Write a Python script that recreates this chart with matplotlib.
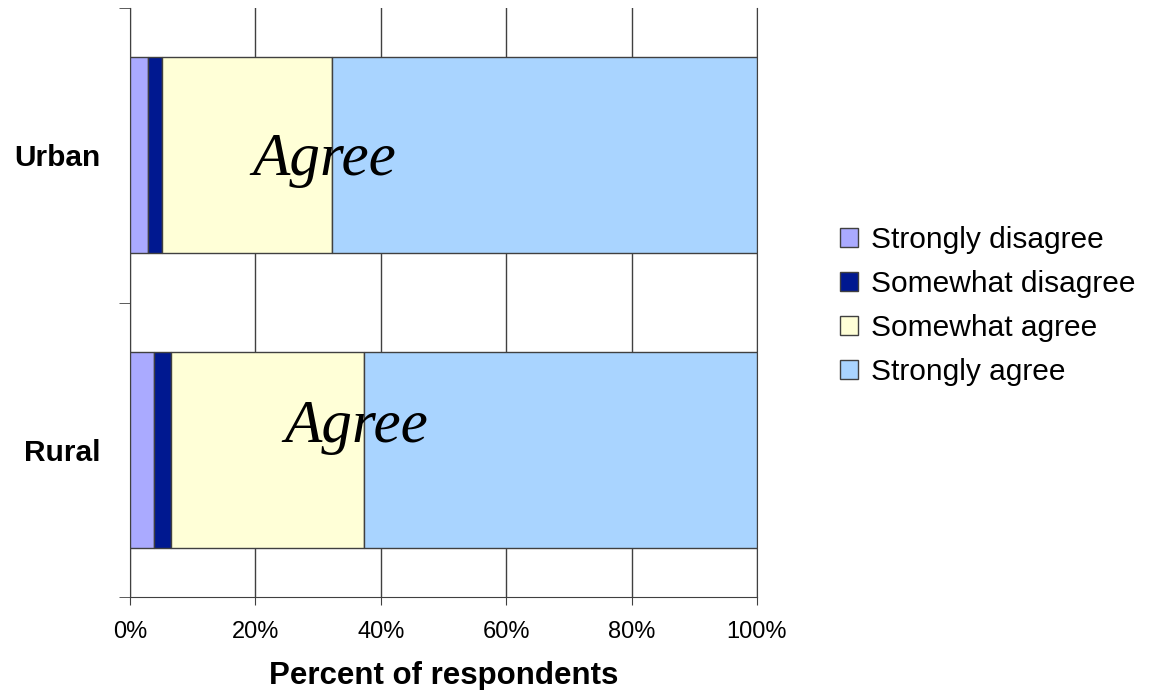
import numpy as np
import matplotlib.pyplot as plt
from matplotlib.ticker import PercentFormatter

# Data (percent of respondents)
groups = ["Rural", "Urban"]
strongly_disagree = [3.8, 2.9]
somewhat_disagree = [2.8, 2.2]
somewhat_agree = [30.7, 27.1]
strongly_agree = [62.7, 67.8]

series = [
    ("Strongly disagree", strongly_disagree, "#aaaaff"),
    ("Somewhat disagree", somewhat_disagree, "#001890"),
    ("Somewhat agree", somewhat_agree, "#ffffd7"),
    ("Strongly agree", strongly_agree, "#a9d4ff"),
]

fig = plt.figure(figsize=(11.67, 6.9), dpi=100)
ax = fig.add_axes([130 / 1167, 1 - 597 / 690, 627 / 1167, 589 / 690])

y = np.arange(len(groups))
left = np.zeros(len(groups))
for name, vals, col in series:
    ax.barh(y, vals, left=left, height=0.666, color=col, edgecolor="#404040",
            linewidth=1.0, label=name, zorder=3)
    left += np.array(vals)

# "Agree" labels near the end of the agree segment
agree_end = np.array(strongly_disagree) + np.array(somewhat_disagree) + np.array(somewhat_agree)
text_y = [0.027, 0.932]
for i in range(len(groups)):
    ax.text(agree_end[i] - 1.2, text_y[i], "Agree", fontsize=44, style="italic",
            family="Liberation Serif", ha="center", va="baseline", zorder=4)

ax.set_xlim(0, 100)
ax.set_ylim(-0.5, 1.5)
ax.xaxis.set_major_formatter(PercentFormatter(decimals=0))
ax.set_xticks(np.arange(0, 101, 20))
ax.grid(axis="x", color="#404040", linewidth=1.0, zorder=0)

ax.set_yticks(y)
ax.set_yticklabels(groups, fontsize=21.5, fontweight="bold", family="Liberation Sans")
ax.set_yticks([-0.5, 0.5, 1.5], minor=True)
ax.tick_params(axis="y", which="major", length=0, pad=21)
ax.tick_params(axis="y", which="minor", length=8, color="#404040")
ax.tick_params(axis="x", length=6, color="#404040", labelsize=17, pad=11)
for lab in ax.get_xticklabels():
    lab.set_family("Liberation Sans")

ax.spines["top"].set_visible(False)
for side in ["left", "bottom", "right"]:
    ax.spines[side].set_color("#404040")

ax.set_xlabel("Percent of respondents", fontsize=22.5, fontweight="bold",
              family="Liberation Sans", labelpad=13)

handles, labels = ax.get_legend_handles_labels()
fig.legend(handles, labels, loc="upper left", bbox_to_anchor=(834 / 1167, 1 - 220 / 690),
           frameon=False, prop={"family": "Liberation Sans", "size": 21.5},
           handlelength=0.6, handleheight=0.6, handletextpad=0.45, labelspacing=0.54,
           borderaxespad=0, borderpad=0.2)

fig.savefig("out.png", dpi=100)
